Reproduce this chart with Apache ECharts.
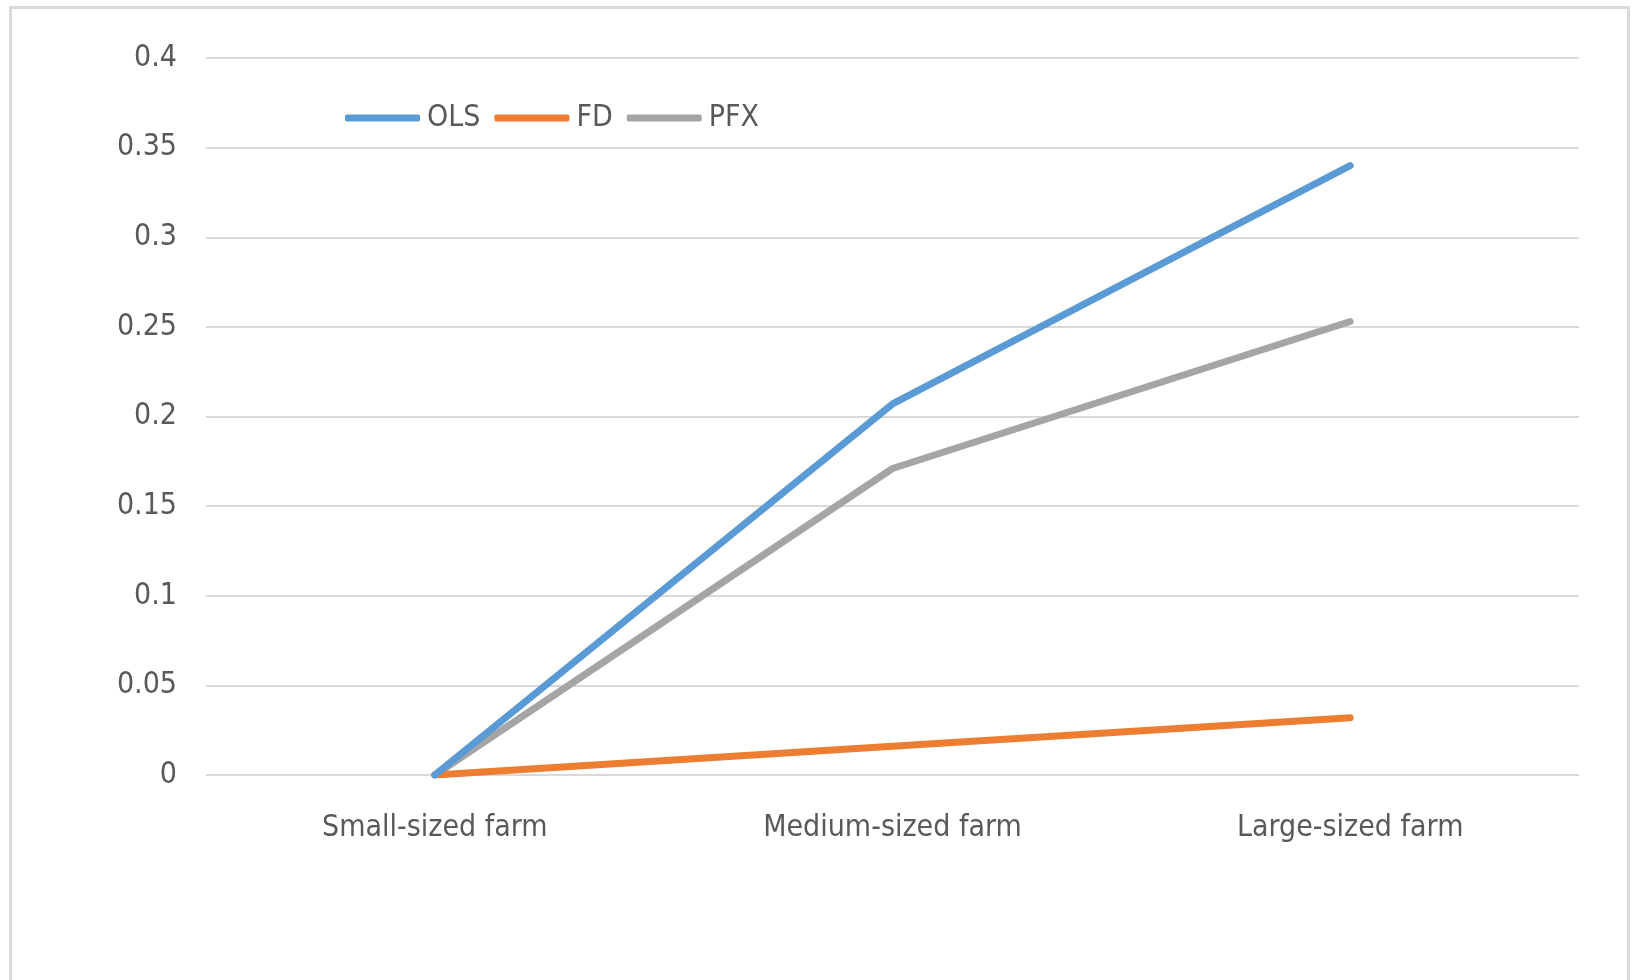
<!DOCTYPE html>
<html>
<head>
<meta charset="utf-8">
<script src="https://cdn.jsdelivr.net/npm/echarts@6/dist/echarts.min.js"></script>
<style>
html,body{margin:0;padding:0;background:#fff;}
#c{width:1633px;height:980px;}
</style>
</head>
<body>
<div id="c"></div>
<script>
var categories = ['Small-sized farm', 'Medium-sized farm', 'Large-sized farm'];
var olsValues = [0, 0.207, 0.340];
var fdValues = [0, 0.016, 0.032];
var pfxValues = [0, 0.171, 0.253];
var seriesNames = ['OLS', 'FD', 'PFX'];
var seriesColors = ['#5B9BD5', '#ED7D31', '#A5A5A5'];

var FONT = '"Liberation Sans Narrow", "DejaVu Sans Condensed", sans-serif';
var chart = echarts.init(document.getElementById('c'), null, {renderer: 'canvas'});
var valuesList = [olsValues, fdValues, pfxValues];
chart.setOption({
  animation: false,
  backgroundColor: '#fff',
  graphic: [{
    type: 'rect',
    shape: {x: 10.5, y: 7.5, width: 1618, height: 1000},
    style: {fill: 'none', stroke: '#d9d9d9', lineWidth: 3},
    silent: true
  }],
  legend: {
    left: 340,
    top: 98,
    itemWidth: 75,
    itemHeight: 7,
    itemGap: 14,
    icon: 'roundRect',
    textStyle: {fontFamily: FONT, fontSize: 30, color: '#595959', padding: [0, 0, 0, 2]},
    data: seriesNames
  },
  grid: {left: 206, right: 54, top: 58, bottom: 205, containLabel: false},
  xAxis: {
    type: 'category',
    data: categories,
    boundaryGap: true,
    axisLine: {show: false},
    axisTick: {show: false},
    axisLabel: {fontFamily: FONT, fontSize: 30, color: '#595959', margin: 38}
  },
  yAxis: {
    type: 'value',
    min: 0,
    max: 0.4,
    interval: 0.05,
    axisLine: {show: false},
    axisTick: {show: false},
    splitLine: {lineStyle: {color: '#d9d9d9', width: 2}},
    axisLabel: {fontFamily: FONT, fontSize: 30, color: '#595959', margin: 29,
      formatter: function (v) { return String(Math.round(v * 100) / 100); }}
  },
  series: seriesNames.map(function (n, i) {
    return {
      name: n,
      type: 'line',
      data: valuesList[i],
      symbol: 'none',
      color: seriesColors[i],
      lineStyle: {width: 7, color: seriesColors[i], cap: 'round', join: 'round'},
      z: i === 1 ? 3 : (i === 0 ? 4 : 2)
    };
  })
});
</script>
</body>
</html>
